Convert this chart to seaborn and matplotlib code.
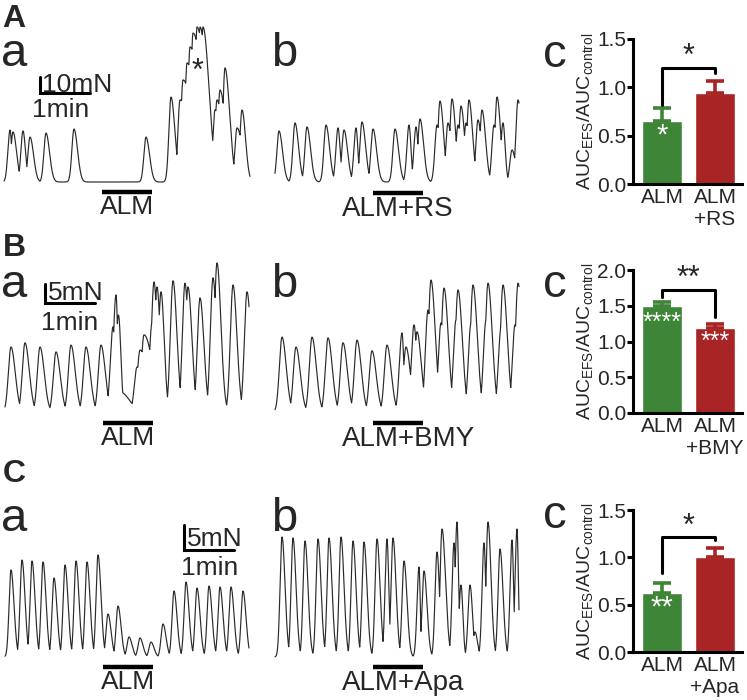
import numpy as np
import matplotlib
matplotlib.use('Agg')
import matplotlib.pyplot as plt
import seaborn as sns

sns.set_style('white')
plt.rcParams['font.family'] = ['Liberation Sans', 'DejaVu Sans']
plt.rcParams['mathtext.fontset'] = 'custom'
plt.rcParams['mathtext.rm'] = 'Liberation Sans'
plt.rcParams['mathtext.it'] = 'Liberation Sans:italic'

W, H = 747, 700

# ---- contraction traces: peak time (min), peak force (mN), decay width (min) ----
# A a: ALM
aa_t = [0.12, 0.18, 0.38, 0.52, 0.84, 1.40, 2.84, 3.34, 3.52, 3.58, 3.66, 3.72, 3.78,
        3.86, 3.92, 3.98, 4.22, 4.26, 4.32, 4.42, 4.66, 4.76]
aa_f = [32.5, 31.3, 31.9, 28.1, 30.6, 33.1, 28.1, 53.1, 51.3, 63.8, 74.4, 84.4, 93.1,
        96.9, 96.9, 96.9, 45.0, 51.3, 57.5, 71.3, 33.8, 45.0]
aa_dec = [0.05, 0.10, 0.07, 0.10, 0.10, 0.10, 0.10, 0.11, 0.30, 0.30, 0.30, 0.30, 0.30,
          0.25, 0.20, 0.17, 0.16, 0.16, 0.16, 0.13, 0.16, 0.10]
# A b: ALM+RS
ab_t = [0.08, 0.40, 0.64, 1.02, 1.26, 1.38, 1.62, 1.74, 1.96, 2.40, 2.68, 2.82, 2.90, 3.24,
        3.30, 3.46, 3.54, 3.66, 3.72, 3.82, 3.88, 4.06, 4.14, 4.38, 4.44, 4.56, 4.74, 4.86]
ab_f = [31.9, 36.9, 34.4, 35.6, 33.8, 32.5, 33.8, 37.5, 33.1, 33.1, 35.6, 34.4, 39.4, 35.6,
        50.6, 36.9, 51.9, 35.6, 47.5, 36.9, 51.3, 38.8, 45.0, 35.6, 53.1, 36.9, 20.0, 51.3]
ab_dec = [0.10, 0.10, 0.10, 0.10, 0.06, 0.10, 0.053, 0.10, 0.10, 0.10, 0.055, 0.06, 0.10, 0.10,
          0.10, 0.10, 0.10, 0.10, 0.10, 0.10, 0.10, 0.10, 0.10, 0.10, 0.10, 0.06, 0.10, 0.10]
# B a: ALM
ba_t = [0.12, 0.40, 0.70, 1.02, 1.32, 1.62, 1.92, 2.16, 2.22, 2.27, 2.30, 2.64, 2.70,
        2.78, 2.94, 2.98, 3.04, 3.12, 3.36, 3.60, 3.66, 3.90, 4.16, 4.24, 4.56, 4.84]
ba_f = [17.1, 18.2, 17.1, 15.8, 17.6, 17.1, 17.6, 22.4, 30.8, 25.5, 5.3, 11.8, 16.3,
        20.3, 23.4, 34.2, 32.9, 31.6, 34.5, 33.9, 32.9, 30.0, 35.3, 39.2, 33.4, 31.6]
ba_dec = [0.12, 0.12, 0.12, 0.12, 0.12, 0.12, 0.12, 0.05, 0.05, 0.066, 0.26, 0.25, 0.25,
          0.25, 0.09, 0.09, 0.09, 0.09, 0.11, 0.09, 0.11, 0.11, 0.10, 0.11, 0.11, 0.11]
# B b: ALM+BMY
bb_t = [0.14, 0.42, 0.74, 1.06, 1.36, 1.64, 1.94, 2.24, 2.54, 2.62, 2.78, 2.84, 3.06,
        3.12, 3.32, 3.38, 3.62, 3.66, 3.92, 3.96, 4.22, 4.26, 4.52, 4.56, 4.80, 4.86]
bb_f = [19.7, 17.1, 19.7, 19.5, 18.2, 18.9, 16.1, 17.6, 20.8, 17.1, 22.9, 21.1, 26.8,
        34.7, 23.4, 32.6, 24.2, 32.1, 23.4, 33.4, 24.2, 33.9, 22.1, 33.4, 22.9, 33.9]
bb_dec = [0.12, 0.12, 0.12, 0.12, 0.12, 0.12, 0.12, 0.12, 0.05, 0.12, 0.08, 0.12, 0.10,
          0.12, 0.10, 0.12, 0.10, 0.12, 0.10, 0.12, 0.10, 0.12, 0.10, 0.12, 0.10, 0.12]
# C a: ALM
ca_t = [0.12, 0.34, 0.54, 0.76, 0.98, 1.20, 1.42, 1.64, 1.86, 2.06, 2.26, 2.48, 2.70,
        2.92, 3.16, 3.38, 3.62, 3.84, 4.08, 4.30, 4.52, 4.76]
ca_f = [17.4, 19.4, 19.2, 19.0, 15.8, 18.4, 19.2, 19.0, 20.4, 8.6, 10.2, 4.0, 3.8,
        3.0, 6.6, 13.2, 15.0, 13.8, 14.2, 14.0, 14.0, 13.2]
ca_dec = [0.085] * 22
# C b: ALM+Apa
cb_t = [0.14, 0.36, 0.60, 0.86, 1.08, 1.32, 1.56, 1.78, 2.04, 2.24, 2.36, 2.58, 2.88,
        2.98, 3.24, 3.34, 3.58, 3.64, 3.72, 3.90, 4.00, 4.18, 4.26, 4.50, 4.74, 4.84]
cb_f = [24.0, 23.8, 23.2, 23.6, 23.8, 24.0, 23.2, 23.0, 23.6, 23.6, 23.8, 19.2, 18.0,
        17.2, 21.0, 25.6, 22.8, 27.0, 14.4, 14.4, 5.0, 22.8, 27.0, 21.6, 23.4, 25.6]
cb_dec = [0.085, 0.085, 0.085, 0.085, 0.085, 0.085, 0.085, 0.085, 0.085, 0.05, 0.085, 0.085,
          0.035, 0.085, 0.07, 0.10, 0.05, 0.044, 0.053, 0.07, 0.07, 0.05, 0.085, 0.085,
          0.045, 0.04]

alm_on, alm_dur = 1.96, 1.0   # drug application (min)

# ---- summary bars (AUC ratio) ----
labels_a = ['ALM', 'ALM\n+RS']
auc_a = [0.65, 0.94]
sem_a = [0.14, 0.13]
labels_b = ['ALM', 'ALM\n+BMY']
auc_b = [1.50, 1.19]
sem_b = [0.05, 0.05]
labels_c = ['ALM', 'ALM\n+Apa']
auc_c = [0.62, 1.00]
sem_c = [0.11, 0.10]

green, red = '#3e8537', '#a92424'


def make_trace(tp, fp, dec, rise, t_end):
    t = np.linspace(0, t_end, 3000)
    y = np.zeros_like(t)
    for a, b, d in zip(tp, fp, dec):
        dt = t - a
        w = np.where(dt < 0, rise, d)
        y = np.maximum(y, b * np.exp(-(dt / w) ** 2))
    return t, y


def px_axes(x0, y0, x1, y1):
    return fig.add_axes([x0 / W, 1 - y1 / H, (x1 - x0) / W, (y1 - y0) / H])


def ftext(x, y, s, **kw):
    fig.text(x / W, 1 - y / H, s, va='baseline', **kw)


fig = plt.figure(figsize=(W / 100, H / 100), dpi=100)

# trace panel: (rect px, t=0 pixel x, baseline pixel y, mN per px)
panels = [
    ((0, 0, 262, 215), 4, 182, 0.625, aa_t, aa_f, aa_dec, 0.06, 4.92, 192, 'ALM', 'c'),
    ((262, 0, 530, 215), 275, 182, 0.625, ab_t, ab_f, ab_dec, 0.06, 4.88, 193, 'ALM+RS', 'l'),
    ((0, 240, 262, 445), 5, 412, 0.263, ba_t, ba_f, ba_dec, 0.075, 4.88, 423, 'ALM', 'c'),
    ((262, 240, 530, 445), 275, 412, 0.263, bb_t, bb_f, bb_dec, 0.075, 4.88, 423, 'ALM+BMY', 'l'),
    ((0, 470, 262, 700), 5, 657, 0.2, ca_t, ca_f, ca_dec, 0.055, 4.88, 667, 'ALM', 'c'),
    ((262, 470, 530, 700), 275, 657, 0.2, cb_t, cb_f, cb_dec, 0.055, 4.88, 667, 'ALM+Apa', 'l'),
]
trace_axes = []
for (x0, y0, x1, y1), xs, yb, k, tp, fp, dec, rise, t_end, bar_y, name, al in panels:
    ax = px_axes(x0, y0, x1, y1)
    ax.set_xlim((x0 - xs) / 50, (x1 - xs) / 50)
    ax.set_ylim((yb - y1) * k, (yb - y0) * k)
    ax.axis('off')
    t, y = make_trace(tp, fp, dec, rise, t_end)
    sns.lineplot(x=t, y=y, ax=ax, color='#2a2a2a', linewidth=0.85, estimator=None, sort=False)
    by = (yb - bar_y) * k
    ax.plot([alm_on, alm_on + alm_dur], [by, by], color='k', lw=3.2,
            solid_capstyle='butt', clip_on=False)
    if al == 'c':
        ax.text(alm_on + alm_dur / 2, (yb - bar_y - 3) * k, name, ha='center', va='top',
                fontsize=19)
    else:
        ax.text(alm_on - 0.62, (yb - bar_y - 3) * k, name, ha='left', va='top',
                fontsize=20)
    trace_axes.append((ax, xs, yb, k))


def scale_bar(i, cx, cy, force):
    ax, xs, yb, k = trace_axes[i]
    t0, f0 = (cx - xs) / 50, (yb - cy) * k
    ax.plot([t0, t0, t0 + 1], [f0 + force, f0, f0], color='k', lw=2.2,
            solid_joinstyle='miter', clip_on=False)


scale_bar(0, 40, 93, 10)
scale_bar(2, 45, 303, 5)
scale_bar(4, 184, 550, 5)
ftext(42, 92, '10mN', fontsize=19)
ftext(32, 117, '1min', fontsize=19)
ftext(48, 300, '5mN', fontsize=19)
ftext(41, 330, '1min', fontsize=19)
ftext(187, 546, '5mN', fontsize=19)
ftext(181, 575, '1min', fontsize=19)

ax0 = trace_axes[0][0]
ax0.text(3.88, (182 - 72) * 0.625, '*', ha='center', va='center', fontsize=22)

# ---- bar charts ----
bar_rows = [
    (39, 184, 1.5, labels_a, auc_a, sem_a, (0.82, 1.20, 1.15), '*', ['*', ''], [0.50, 0]),
    (270, 413, 2.0, labels_b, auc_b, sem_b, (1.62, 1.72, 1.34), '**', ['****', '***'], [1.26, 0.99]),
    (510, 652, 1.5, labels_c, auc_c, sem_c, (0.83, 1.21, 1.18), '*', ['**', ''], [0.47, 0]),
]
for top, bot, ymax, labs, vals, errs, br, sig, inner, inner_y in bar_rows:
    ax = px_axes(633, top, 742, bot)
    sns.barplot(x=labs, y=vals, hue=labs, palette=[green, red], ax=ax, width=0.755,
                saturation=1, legend=False)
    for i, c in enumerate([green, red]):
        ax.errorbar(i, vals[i], yerr=[[0], [errs[i]]], fmt='none', ecolor=c,
                    elinewidth=2.6, capsize=6.5, capthick=2.6)
        if inner[i]:
            fs = 21 if len(inner[i]) < 3 else 18
            ax.text(i, inner_y[i], inner[i], color='white', ha='center', va='center',
                    fontsize=fs)
    ax.plot([0, 0, 1, 1], [br[0], br[1], br[1], br[2]], color='k', lw=2.2, clip_on=False)
    ax.text(0.5, br[1] - 0.03 * ymax, sig, ha='center', va='bottom', fontsize=22)
    ax.set_xlim(-0.55, 1.51)
    ax.set_ylim(0, ymax)
    ax.set_yticks(np.arange(0, ymax + 0.01, 0.5))
    ax.set_yticklabels([f'{v:.1f}' for v in np.arange(0, ymax + 0.01, 0.5)])
    sns.despine(ax=ax)
    for s in ['left', 'bottom']:
        ax.spines[s].set_linewidth(2.2)
        ax.spines[s].set_color('k')
    ax.tick_params(axis='y', width=2.2, length=4, labelsize=15, pad=1, color='k', left=True)
    ax.tick_params(axis='x', length=0, labelsize=15, pad=3)
    ax.set_ylabel(r'AUC$_{\mathregular{EFS}}$/AUC$_{\mathregular{control}}$', fontsize=14,
                  labelpad=1)

# ---- panel letters ----
for x, y, s in [(2, 27, 'A'), (3, 256, 'B'), (3, 482, 'C')]:
    ftext(x, y, s, fontsize=23, fontweight='bold')
for y in [66, 297, 531]:
    ftext(1, y, 'a', fontsize=34)
    ftext(271, y, 'b', fontsize=34)
for y in [67, 297, 528]:
    ftext(543, y, 'c', fontsize=34)

fig.savefig('out.png', dpi=100)
